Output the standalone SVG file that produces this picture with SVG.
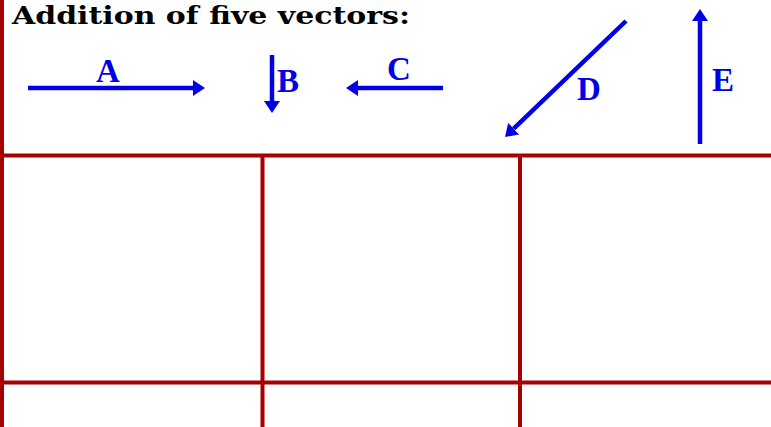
<svg xmlns="http://www.w3.org/2000/svg" width="771" height="427" viewBox="0 0 771 427">
<style>
.grid{stroke:#A80000;stroke-width:4;fill:none}
.vec{stroke:#0000E6;stroke-width:4.5;fill:none;marker-end:url(#ah)}
.lbl{font-family:"Liberation Serif","Times New Roman",serif;font-weight:bold;font-size:33px;fill:#0000E6}
.title{font-family:"DejaVu Serif","Liberation Serif",serif;font-weight:bold;font-size:25px;fill:#000}
</style>
<defs>
<marker id="ah" markerUnits="userSpaceOnUse" markerWidth="14" markerHeight="18" viewBox="0 -9 14 18" refX="0" refY="0" orient="auto">
<path d="M0,-8 L12,0 L0,8 z" fill="#0000E6"/>
</marker>
</defs>
<rect width="771" height="427" fill="#fff"/>
<g id="grid">
<line class="grid" x1="2" y1="0" x2="2" y2="427"/>
<line class="grid" x1="0" y1="155.5" x2="771" y2="155.5"/>
<line class="grid" x1="0" y1="382.5" x2="771" y2="382.5"/>
<line class="grid" x1="262.5" y1="155" x2="262.5" y2="427"/>
<line class="grid" x1="520" y1="155" x2="520" y2="427"/>
</g>
<g id="title"><text class="title" x="12" y="24" textLength="398" lengthAdjust="spacingAndGlyphs">Addition of five vectors:</text></g>
<g id="connectors">
<line id="vA" class="vec" x1="28" y1="88" x2="193" y2="88"/>
<line id="vB" class="vec" x1="272" y1="55" x2="272" y2="101"/>
<line id="vC" class="vec" x1="443" y1="88" x2="358" y2="88"/>
<line id="vD" class="vec" x1="626" y1="21" x2="513.7" y2="128.7"/>
<line id="vE" class="vec" x1="700" y1="144" x2="700" y2="21"/>
</g>
<g id="labelA"><text class="lbl" x="96" y="82">A</text></g>
<g id="labelB"><text class="lbl" x="277" y="92">B</text></g>
<g id="labelC"><text class="lbl" x="387" y="80">C</text></g>
<g id="labelD"><text class="lbl" x="577" y="100">D</text></g>
<g id="labelE"><text class="lbl" x="712" y="91">E</text></g>
</svg>
